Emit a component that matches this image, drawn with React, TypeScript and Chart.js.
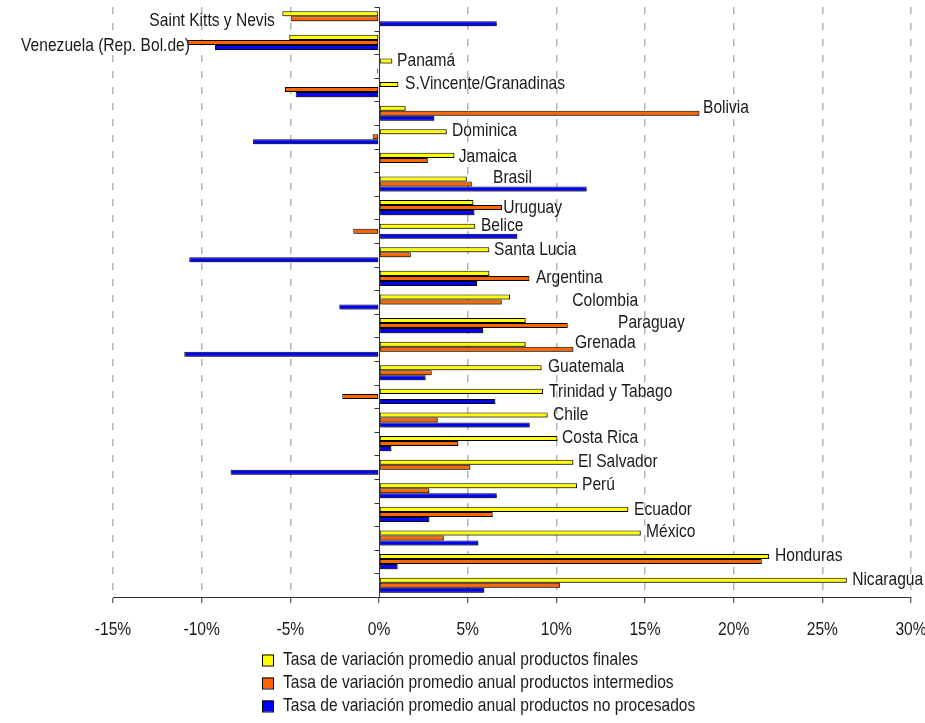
import React, { useEffect, useRef } from "react";
import { Chart, registerables } from "chart.js";

Chart.register(...registerables);

const categories = [
  "Saint Kitts y Nevis",
  "Venezuela (Rep. Bol.de)",
  "Panamá",
  "S.Vincente/Granadinas",
  "Bolivia",
  "Dominica",
  "Jamaica",
  "Brasil",
  "Uruguay",
  "Belice",
  "Santa Lucia",
  "Argentina",
  "Colombia",
  "Paraguay",
  "Grenada",
  "Guatemala",
  "Trinidad y Tabago",
  "Chile",
  "Costa Rica",
  "El Salvador",
  "Perú",
  "Ecuador",
  "México",
  "Honduras",
  "Nicaragua",
];

const finales = [
  -5.45, -5.06, 0.75, 1.09, 1.5, 3.82, 4.25, 4.95, 5.32, 5.43, 6.22, 6.22, 7.39,
  8.27, 8.27, 9.17, 9.25, 9.51, 10.06, 10.96, 11.17, 14.06, 14.76, 22.0, 26.38,
];
const intermedios = [
  -4.98, -10.8, 0, -5.3, 18.07, -0.36, 2.75, 5.23, 6.94, -1.45, 1.79, 8.48, 6.92,
  10.64, 10.96, 2.97, -2.07, 3.31, 4.47, 5.15, 2.84, 6.41, 3.65, 21.58, 10.2,
];
const noProcesados = [
  6.64, -9.25, -0.1, -4.7, 3.12, -7.1, 0, 11.71, 5.38, 7.8, -10.7, 5.53, -2.24,
  5.88, -10.98, 2.63, 6.56, 8.5, 0.7, -8.37, 6.64, 2.84, 5.6, 1.05, 5.94,
];

const seriesNames = [
  "Tasa de variación promedio anual productos finales",
  "Tasa de variación promedio anual productos intermedios",
  "Tasa de variación promedio anual productos no procesados",
];

const tickValues = [-15, -10, -5, 0, 5, 10, 15, 20, 25, 30];
const tickLabels = ["-15%", "-10%", "-5%", "0%", "5%", "10%", "15%", "20%", "25%", "30%"];

// Category name annotations: anchor value (%) on the x scale, alignment, vertical nudge
const labelAnchor = [
  -5.87, -10.66, 1.02, 1.47, 18.27, 4.12, 4.5, 6.43, 7.0, 5.75, 6.49, 8.85, 10.9,
  13.48, 11.05, 9.53, 9.59, 9.81, 10.32, 11.22, 11.45, 14.38, 15.06, 22.33, 26.68,
];
const labelAlign = ["right", "right"];
const labelDy = [
  2, 3, -5, -5.5, -5, -6, -4, -6, 0, -5, -5, -1, -1, -3, -6, -6, -5, -5, -6, -5,
  -6, -5, -6, -6, -5,
];

const colors = ["#FFFF00", "#FF6600", "#0000FF"];
const FONT = "'Liberation Sans', Arial, sans-serif";
const NARROW = 0.82;

function drawText(ctx: CanvasRenderingContext2D, text: string, x: number, y: number, align: CanvasTextAlign) {
  ctx.save();
  ctx.translate(x, y);
  ctx.scale(NARROW, 1);
  ctx.textAlign = align;
  ctx.fillText(text, 0, 0);
  ctx.restore();
}

const customPlugin = {
  id: "customDraw",
  beforeDatasetsDraw(chart: any) {
    const { ctx, chartArea, scales } = chart;
    const x = scales.x;
    const y = scales.y;
    const x0 = Math.round(x.getPixelForValue(0)) + 0.5;
    ctx.save();
    ctx.strokeStyle = "#333";
    ctx.lineWidth = 1;
    ctx.beginPath();
    ctx.moveTo(x0, chartArea.top);
    ctx.lineTo(x0, chartArea.bottom);
    const n = categories.length;
    const step = (chartArea.bottom - chartArea.top) / n;
    for (let i = 0; i <= n; i++) {
      const yy =
        Math.round(
          i < n ? y.getPixelForValue(i) - step / 2 : y.getPixelForValue(n - 1) + step / 2
        ) + 0.5;
      ctx.moveTo(x0 - 5, yy);
      ctx.lineTo(x0, yy);
    }
    ctx.stroke();
    ctx.restore();
  },
  beforeDatasetDraw(chart: any) {
    const ctx = chart.ctx;
    ctx.save();
    ctx.shadowColor = "rgba(0,0,0,0.35)";
    ctx.shadowOffsetX = 1.5;
    ctx.shadowOffsetY = 1.5;
    ctx.shadowBlur = 0;
  },
  afterDatasetDraw(chart: any) {
    chart.ctx.restore();
  },
  afterDatasetsDraw(chart: any) {
    const { ctx, scales } = chart;
    const x = scales.x;
    const y = scales.y;
    ctx.save();
    ctx.font = `19px ${FONT}`;
    ctx.fillStyle = "#1a1a1a";
    ctx.textBaseline = "middle";
    categories.forEach((name, i) => {
      const px = x.getPixelForValue(labelAnchor[i]);
      const py = y.getPixelForValue(i) + labelDy[i];
      drawText(ctx, name, px, py, (labelAlign[i] as CanvasTextAlign) || "left");
    });
    ctx.restore();
  },
  afterDraw(chart: any) {
    const { ctx, chartArea, scales } = chart;
    const x = scales.x;
    ctx.save();
    ctx.font = `19px ${FONT}`;
    ctx.textBaseline = "middle";
    ctx.fillStyle = "#1a1a1a";
    // x tick labels
    tickValues.forEach((v, i) => {
      drawText(ctx, tickLabels[i], x.getPixelForValue(v), chartArea.bottom + 33, "center");
    });
    // legend
    const rows = [660, 683, 706];
    seriesNames.forEach((name, i) => {
      const cy = rows[i];
      ctx.fillStyle = colors[i];
      ctx.fillRect(262, cy - 5.5, 11, 11);
      ctx.strokeStyle = "#000";
      ctx.lineWidth = 1;
      ctx.strokeRect(262.5, cy - 5, 11, 11);
      ctx.fillStyle = "#1a1a1a";
      drawText(ctx, name, 283, cy, "left");
    });
    ctx.restore();
  },
};

export default function App() {
  const canvasRef = useRef<HTMLCanvasElement | null>(null);

  useEffect(() => {
    const canvas = canvasRef.current;
    if (!canvas) return;
    const chart = new Chart(canvas, {
      type: "bar",
      data: {
        labels: categories,
        datasets: [
          { label: seriesNames[0], data: finales, backgroundColor: colors[0] },
          { label: seriesNames[1], data: intermedios, backgroundColor: colors[1] },
          { label: seriesNames[2], data: noProcesados, backgroundColor: colors[2] },
        ],
      },
      options: {
        indexAxis: "y",
        animation: false,
        responsive: false,
        maintainAspectRatio: false,
        layout: { padding: { left: 113, right: 14, top: 7, bottom: 86 } },
        datasets: {
          bar: {
            categoryPercentage: 0.64,
            barPercentage: 1,
            borderWidth: 1,
            borderColor: "#000",
            borderSkipped: false,
          },
        },
        plugins: {
          legend: { display: false },
          tooltip: { enabled: false },
        },
        scales: {
          x: {
            type: "linear",
            min: -15,
            max: 30,
            afterBuildTicks: (s: any) => {
              s.ticks = tickValues.map((v) => ({ value: v }));
            },
            afterFit: (s: any) => {
              s.height = 40;
            },
            grid: {
              color: (c: any) =>
                c.tick && c.tick.value === 0 ? "rgba(0,0,0,0)" : "#b4b4b4",
              lineWidth: 1.5,
              tickColor: "#333",
              tickWidth: 1,
              tickLength: 6,
            },
            border: { display: true, color: "#333", width: 1, dash: [7, 9] },
            ticks: { display: false, autoSkip: false, maxRotation: 0 },
          },
          y: {
            display: false,
            grid: { display: false },
          },
        },
      },
      plugins: [customPlugin],
    } as any);
    return () => chart.destroy();
  }, []);

  return (
    <div style={{ position: "fixed", left: 0, top: 0, width: 925, height: 723, background: "#fff" }}>
      <canvas ref={canvasRef} width={925} height={723} style={{ display: "block" }} />
    </div>
  );
}
